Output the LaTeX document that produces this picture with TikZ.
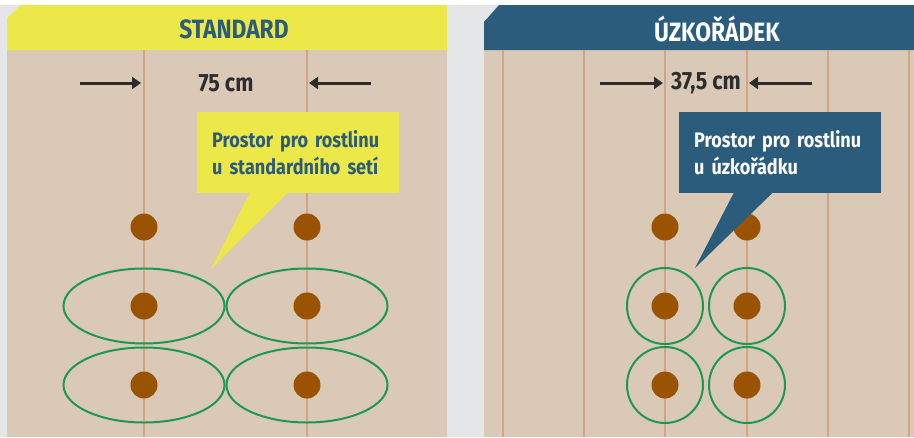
\documentclass[tikz,border=0pt]{standalone}
\usepackage{fontspec}
\setmainfont{Fira Sans}[FakeStretch=0.86]
\usetikzlibrary{positioning, arrows.meta}
\definecolor{paper}{RGB}{229,230,232}
\definecolor{soil}{RGB}{217,201,182}
\definecolor{furrow}{RGB}{206,166,134}
\definecolor{yellow}{RGB}{236,232,74}
\definecolor{navy}{RGB}{43,92,123}
\definecolor{seed}{RGB}{154,82,3}
\definecolor{leaf}{RGB}{30,152,80}
\definecolor{ink}{RGB}{45,45,45}
\tikzstyle{plant}=[circle, fill=seed, minimum size=27pt, inner sep=0pt]
\tikzstyle{row}=[draw=furrow, line width=1.6pt]
\tikzstyle{space}=[draw=leaf, line width=2pt]
\tikzstyle{dim}=[draw=ink, line width=3pt, -{Triangle[length=9pt,width=12pt]}]
\tikzstyle{label}=[text=ink, font=\bfseries\fontsize{25}{28}\selectfont]
\tikzstyle{title}=[font=\bfseries\fontsize{26.5}{30}\selectfont]
\tikzstyle{note}=[minimum width=200pt, minimum height=81pt, inner xsep=15pt, text width=172pt,
  align=left, anchor=north west, font=\bfseries\fontsize{21}{27}\selectfont]

\begin{document}
\begin{tikzpicture}[x=1pt, y=-1pt]
            \useasboundingbox (0,0) rectangle (914,437);
            \fill[paper] (0,0) rectangle (914,437);
            \fill[white] (0,0) rectangle (914,5);
            % standard field
            \fill[soil] (7,50) rectangle (447,437);
            \fill[yellow] (7,18) -- (21,5) -- (447,5) -- (447,50) -- (7,50) -- cycle;
            \node[title, text=navy] (t1) at (234,29) {STANDARD};
            \foreach \x in {144,307}{
                \draw[row] (\x,50) -- (\x,437);
            }
            % narrow row field
            \fill[soil] (484,50) rectangle (914,437);
            \fill[navy] (484,22) -- (499,5) -- (914,5) -- (914,50) -- (484,50) -- cycle;
            \node[title, text=white] (t2) at (717,29) {ÚZKOŘÁDEK};
            \foreach \x in {503,584,665,747,828,909}{
                \draw[row] (\x,50) -- (\x,437);
            }
            % plants
            \foreach \n/\y in {1/227,2/306,3/385}{
                \node[plant] (a\n) at (144,\y) {};
                \node[plant] (b\n) at (307,\y) {};
                \node[plant] (c\n) at (665,\y) {};
                \node[plant] (d\n) at (747,\y) {};
            }
            \foreach \n in {2,3}{
                \draw[space] (a\n) ellipse [x radius=80.5pt, y radius=37.5pt];
                \draw[space] (b\n) ellipse [x radius=80.5pt, y radius=37.5pt];
                \draw[space] (c\n) circle [radius=38pt];
                \draw[space] (d\n) circle [radius=38pt];
            }
            % spacing
            \node[label] (w1) at (226,83) {75 cm};
            \coordinate (w1a) at (80,83);  \coordinate (w1b) at (141,83);
            \coordinate (w1c) at (371,83); \coordinate (w1d) at (309,83);
            \draw[dim] (w1a) -- (w1b);
            \draw[dim] (w1c) -- (w1d);
            \node[label] (w2) at (706,83) {37,5 cm};
            \coordinate (w2a) at (600,83); \coordinate (w2b) at (663,83);
            \coordinate (w2c) at (812,83); \coordinate (w2d) at (749,83);
            \draw[dim] (w2a) -- (w2b);
            \draw[dim] (w2c) -- (w2d);
            % callouts
            \node[note, fill=yellow, text=navy] (q1) at (197,112) {Prostor pro rostlinu\\u standardního setí};
            \coordinate (q1t) at (211,269);
            \fill[yellow] ([xshift=53pt,yshift=1pt]q1.south west) -- ([xshift=91pt,yshift=1pt]q1.south west) -- (q1t) -- cycle;
            \node[note, fill=navy, text=white] (q2) at (679,112) {Prostor pro rostlinu\\u úzkořádku};
            \coordinate (q2t) at (695,268);
            \fill[navy] ([xshift=55pt,yshift=1pt]q2.south west) -- ([xshift=94pt,yshift=1pt]q2.south west) -- (q2t) -- cycle;
        \end{tikzpicture}
\end{document}
